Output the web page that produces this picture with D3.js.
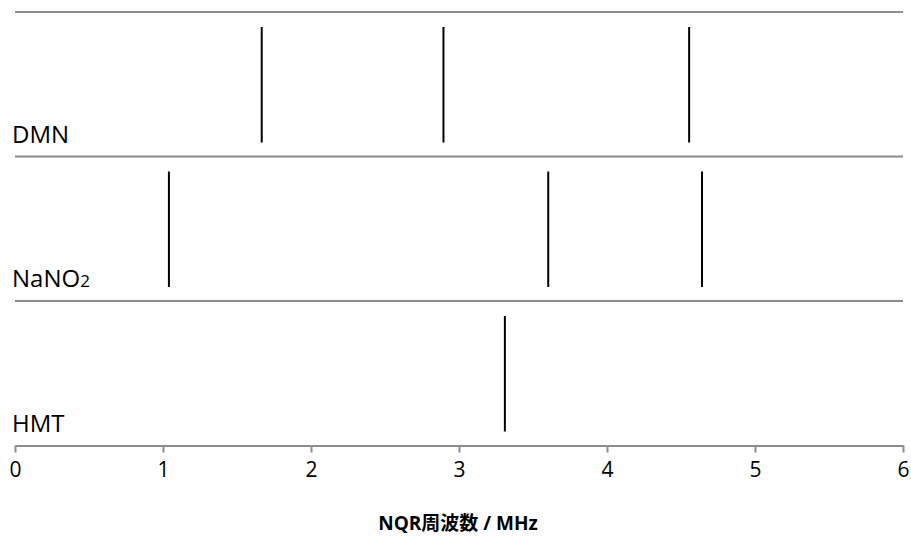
<!DOCTYPE html>
<html>
<head>
<meta charset="utf-8">
<script src="https://cdn.jsdelivr.net/npm/d3@7"></script>
<style>
  body { margin: 0; background: #fff; }
  text { font-family: "Open Sans", "Noto Sans CJK JP", sans-serif; fill: #000; }
</style>
</head>
<body>
<div id="chart"></div>
<script>
// compounds (top to bottom)
var compounds = ["DMN", "NaNO2", "HMT"];
// NQR lines, MHz
var dmnFreqs = [1.667, 2.895, 4.555];
var nano2Freqs = [1.04, 3.603, 4.642];
var hmtFreqs = [3.31];
var xTicks = [0, 1, 2, 3, 4, 5, 6];
var axisTitle = "NQR周波数 / MHz";

var freqs = { "DMN": dmnFreqs, "NaNO2": nano2Freqs, "HMT": hmtFreqs };

var width = 911, height = 539;

var svg = d3.select("#chart")
    .append("svg")
    .attr("width", width)
    .attr("height", height);

var x = d3.scaleLinear()
    .domain([0, 6])
    .range([15, 903]);

var y = d3.scaleBand()
    .domain(compounds)
    .range([12, 445.5])
    .padding(0);

// band separators
svg.selectAll("line.sep")
    .data(compounds)
    .enter()
    .append("line")
    .attr("class", "sep")
    .attr("x1", x(0))
    .attr("x2", x(6))
    .attr("y1", function (d) { return y(d); })
    .attr("y2", function (d) { return y(d); })
    .attr("stroke", "#8c8c8c")
    .attr("stroke-width", 2);

// x axis
var xAxis = svg.append("g")
    .attr("transform", "translate(0," + y.range()[1] + ")")
    .call(d3.axisBottom(x).tickValues(xTicks).tickFormat(d3.format("d"))
        .tickSize(7).tickPadding(10).tickSizeOuter(0));
xAxis.select(".domain").attr("stroke", "#8c8c8c").attr("stroke-width", 2);
xAxis.selectAll(".tick line").attr("stroke", "#8c8c8c").attr("stroke-width", 2);
xAxis.selectAll(".tick text")
    .style("font-family", "'Open Sans', sans-serif")
    .style("font-size", "21px")
    .attr("fill", "#000");

// the NQR lines
compounds.forEach(function (c) {
    svg.selectAll("line.l" + c)
        .data(freqs[c])
        .enter()
        .append("line")
        .attr("x1", function (d) { return x(d); })
        .attr("x2", function (d) { return x(d); })
        .attr("y1", y(c) + 15)
        .attr("y2", y(c) + y.bandwidth() - 14)
        .attr("stroke", "#000")
        .attr("stroke-width", 2);
});

// labels
var labels = svg.selectAll("text.lab")
    .data(compounds)
    .enter()
    .append("text")
    .attr("class", "lab")
    .attr("x", 12)
    .attr("y", function (d) { return y(d) + y.bandwidth() - 14; })
    .style("font-size", "24px");
labels.each(function (d) {
    var t = d3.select(this);
    var m = d.match(/^(.*?)(\d+)$/);
    if (m) {
        t.append("tspan").text(m[1]);
        t.append("tspan").text(m[2]).style("font-size", "17px");
    } else {
        t.text(d);
    }
});

// axis title
svg.append("text")
    .attr("x", 458)
    .attr("y", 530)
    .attr("text-anchor", "middle")
    .style("font-size", "19px")
    .style("font-weight", "bold")
    .text(axisTitle);
</script>
</body>
</html>
